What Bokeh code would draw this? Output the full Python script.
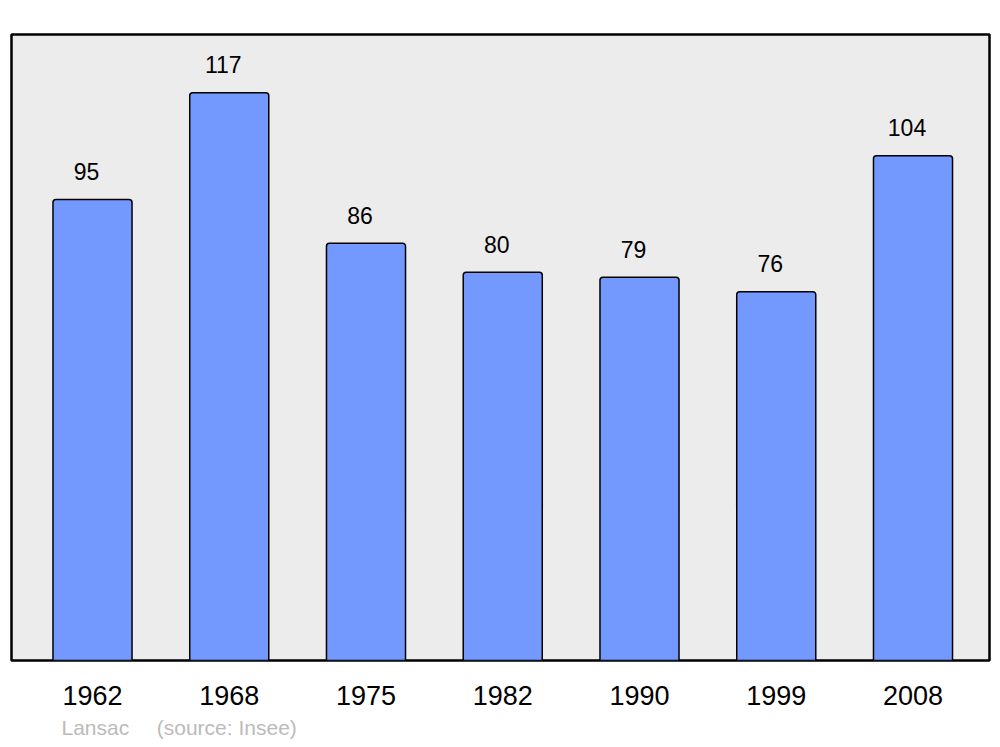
from bokeh.plotting import figure
from bokeh.models import ColumnDataSource, Title, FixedTicker, Range1d
from bokeh.core.properties import value
from bokeh.embed import file_html
from bokeh.resources import INLINE

years = ["1962", "1968", "1975", "1982", "1990", "1999", "2008"]
population = [95, 117, 86, 80, 79, 76, 104]
commune = "Lansac"
source_text = "(source: Insee)"

idx = list(range(len(years)))
src = ColumnDataSource(dict(x=idx, top=population, lab=[str(v) for v in population]))

x0, x1 = -0.5923, 6.5594
y0, y1 = 0, 129

p = figure(width=1000, height=745, output_backend="svg", toolbar_location=None,
           x_range=Range1d(x0, x1), y_range=Range1d(y0, y1),
           min_border_left=11, min_border_right=11, min_border_top=34, min_border_bottom=85)
p.background_fill_color = "#ECECEC"
p.border_fill_color = "white"
p.outline_line_color = "black"
p.outline_line_width = 2.5
p.grid.visible = False
p.yaxis.visible = False

p.vbar(x="x", top="top", bottom=0, width=0.578, source=src, fill_color="#7399FF",
       line_color="black", line_width=1.5, border_radius=(3, 3, 0, 0))

p.text(x="x", y="top", text="lab", source=src, x_offset=-6, y_offset=-28,
       text_align="center", text_baseline="middle", text_font=value("Liberation Sans"),
       text_font_size="23px", text_color="black")

xa = p.xaxis[0]
xa.ticker = FixedTicker(ticks=idx)
xa.major_label_overrides = {i: y for i, y in zip(idx, years)}
xa.axis_line_color = None
xa.major_tick_line_color = None
xa.minor_tick_line_color = None
xa.major_label_standoff = 19
xa.major_label_text_font = "Liberation Sans"
xa.major_label_text_font_size = "27px"
xa.major_label_text_color = "black"

footer = Title(text=commune + "\u00a0\u00a0\u00a0\u00a0\u2009" + source_text, align="left",
               offset=50, standoff=12, text_font="Liberation Sans", text_font_size="21px",
               text_font_style="normal", text_color="#BBBBBB")
p.add_layout(footer, "below")

open("out.html", "w").write(file_html(p, INLINE))
